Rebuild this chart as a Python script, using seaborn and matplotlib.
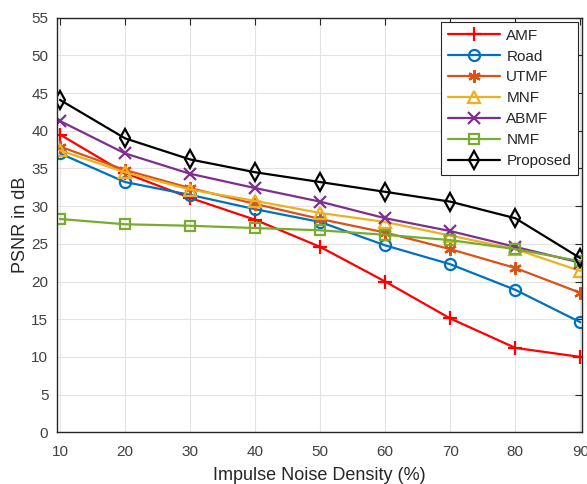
import matplotlib
matplotlib.use("Agg")
import matplotlib.pyplot as plt
import seaborn as sns
import pandas as pd

density = [10, 20, 30, 40, 50, 60, 70, 80, 90]
amf      = [39.5, 34.4, 31.1, 28.2, 24.6, 20.0, 15.1, 11.2, 10.0]
road     = [37.0, 33.2, 31.5, 29.6, 27.9, 24.8, 22.3, 18.9, 14.6]
utmf     = [37.9, 34.8, 32.4, 30.3, 28.3, 26.5, 24.3, 21.8, 18.5]
mnf      = [37.4, 34.5, 32.2, 30.7, 29.1, 27.9, 26.1, 24.3, 21.4]
abmf     = [41.3, 37.0, 34.3, 32.4, 30.6, 28.4, 26.7, 24.6, 22.5]
nmf      = [28.3, 27.6, 27.4, 27.1, 26.8, 26.2, 25.5, 24.3, 22.7]
proposed = [44.1, 39.0, 36.2, 34.5, 33.2, 31.9, 30.6, 28.4, 23.1]

names = ["AMF", "Road", "UTMF", "MNF", "ABMF", "NMF", "Proposed"]
series = [amf, road, utmf, mnf, abmf, nmf, proposed]
colors = ["#FF0000", "#0072BD", "#D95319", "#EDB120", "#7E2F8E", "#77AC30", "#000000"]
markers = ["+", "o", (6, 2, 0), "^", "x", "s", "d"]
msizes = [10, 8, 9, 9, 8, 7, 9]

sns.set_theme(style="white")
plt.rcParams["font.family"] = ["Liberation Sans", "DejaVu Sans"]

fig = plt.figure(figsize=(5.87, 4.84), dpi=100)
ax = fig.add_axes([0.0966, 0.1068, 0.8954, 0.8566])

for name, vals, c, m, ms in zip(names, series, colors, markers, msizes):
    df = pd.DataFrame({"x": density, "y": vals})
    sns.lineplot(data=df, x="x", y="y", ax=ax, color=c, marker=m, markersize=ms,
                 markerfacecolor="none", markeredgecolor=c, markeredgewidth=1.6,
                 linewidth=1.6, label=name)

ax.set_xlim(9.5, 90.3)
ax.set_ylim(0, 55)
ax.set_xticks(density)
ax.set_yticks(range(0, 56, 5))
ax.grid(True, color="#e3e3e3", linewidth=0.8)
ax.set_axisbelow(True)
for s in ax.spines.values():
    s.set_color("#262626")
    s.set_linewidth(1.0)
ax.tick_params(direction="in", top=True, right=True, length=5, width=0.8,
               colors="#262626", labelsize=11, labelcolor="#404040")
ax.tick_params(axis="x", pad=9)
ax.tick_params(axis="y", pad=6)
ax.set_xlabel("Impulse Noise Density (%)", fontsize=13, color="#262626", labelpad=6)
ax.set_ylabel("PSNR in dB", fontsize=13, color="#262626", labelpad=2)

leg = ax.legend(loc="upper right", bbox_to_anchor=(0.992, 0.99), borderaxespad=0,
                fontsize=11, handlelength=3.4, borderpad=0.45, labelspacing=0.45,
                handletextpad=0.4, fancybox=False, framealpha=1, edgecolor="#262626")
leg.get_frame().set_linewidth(0.8)

fig.savefig("out.png", dpi=100)
